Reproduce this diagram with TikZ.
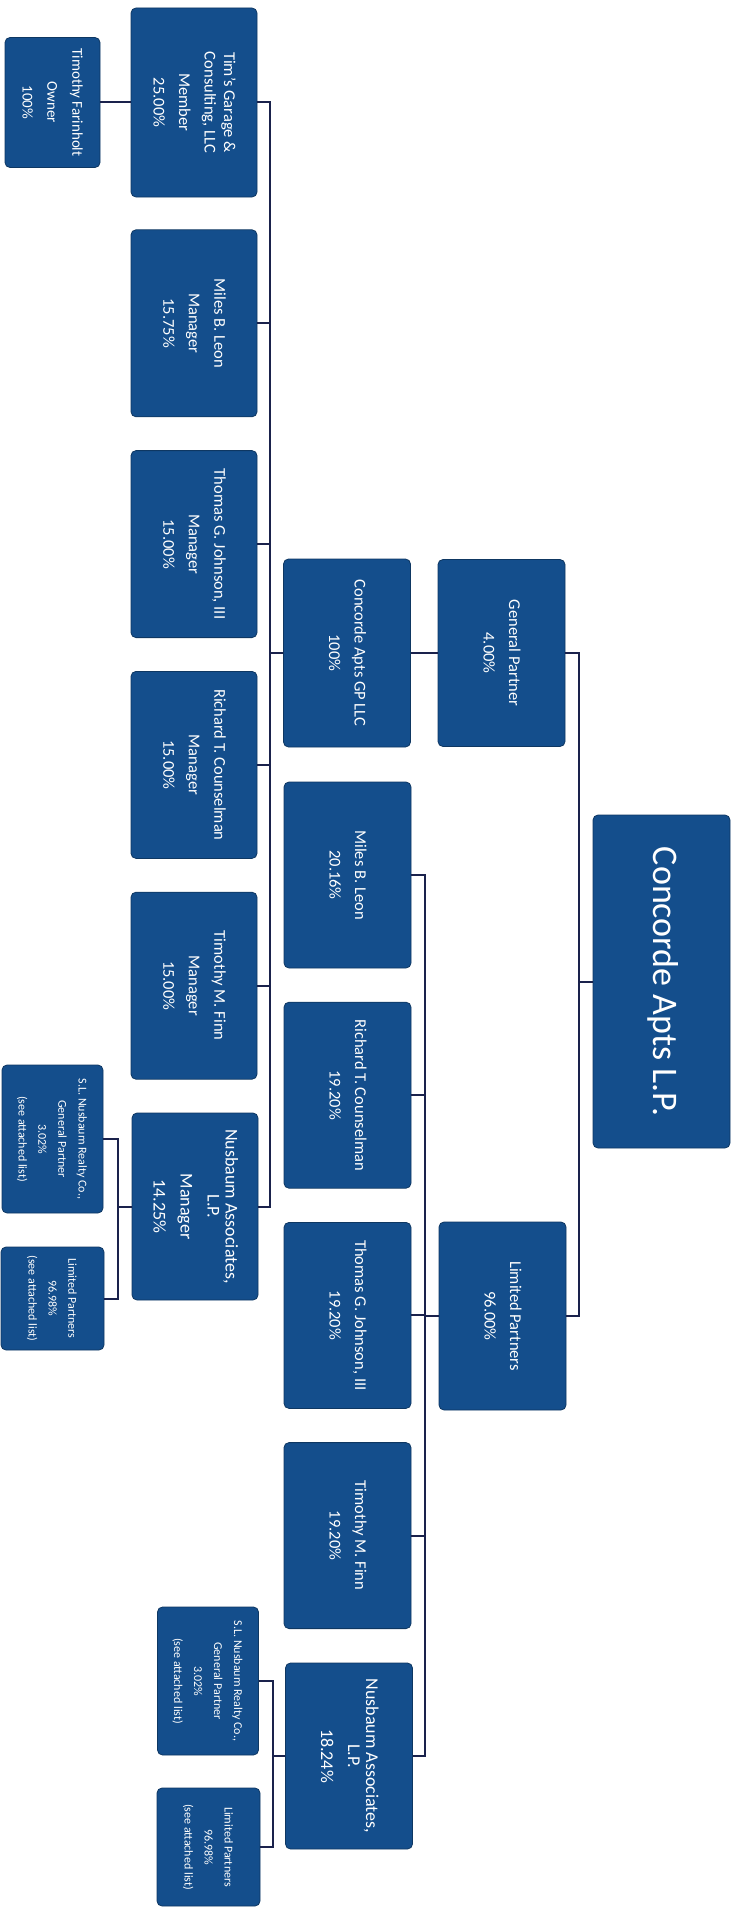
\documentclass[tikz,border=0pt]{standalone}
\usepackage{fontspec}
\setmainfont{Carlito}
\definecolor{boxblue}{RGB}{20,78,140}
\definecolor{linkblue}{RGB}{26,34,76}
\newcommand{\vlines}[1]{\rotatebox{-90}{\begin{tabular}{@{}c@{}}#1\end{tabular}}}

\begin{document}
\begin{tikzpicture}[x=1pt,y=-1pt,
  box/.style={draw=boxblue!70!black, fill=boxblue, rounded corners=5pt, inner sep=0pt,
    line width=0.8pt, text=white, font=\fontsize{16.5}{25.5}\selectfont},
  small/.style={font=\fontsize{12}{20}\selectfont},
  link/.style={draw=linkblue, line width=2pt}]

\useasboundingbox (0,0) rectangle (743,1908);

 % top of the chart
 \node[box, minimum width=137pt, minimum height=333pt, font=\fontsize{36}{40}\selectfont]
   (lp) at (661.5,981.5) {\vlines{Concorde Apts L.P.}};
 \node[box, minimum width=127pt, minimum height=187pt] (gp) at (501.5,653) {\vlines{General Partner\\4.00\%}};
 \node[box, minimum width=127pt, minimum height=188pt] (ltd) at (502.5,1316) {\vlines{Limited Partners\\96.00\%}};
 \node[box, minimum width=127pt, minimum height=188pt] (gpllc) at (347,653) {\vlines{Concorde Apts GP LLC\\100\%}};

 % limited partners
 \foreach \t [count=\i] in {{Miles B. Leon\\20.16\%}, {Richard T. Counselman\\19.20\%},
   {Thomas G. Johnson, III\\19.20\%}, {Timothy M. Finn\\19.20\%}} {
  \node[box, minimum width=127pt, minimum height=186pt] (p\i) at (347.5,{875+220.2*(\i-1)}) {\vlines{\t}};
 }
 \node[box, minimum width=127pt, minimum height=186pt, font=\fontsize{18}{27}\selectfont]
   (p5) at (349,1756) {\vlines{Nusbaum Associates,\\[-9pt] L.P.\\ 18.24\%}};
 \node[box, small, minimum width=101pt, minimum height=148pt] (slrc2) at (208,1681)
   {\vlines{S.L. Nusbaum Realty Co.,\\General Partner\\3.02\%\\(see attached list)}};
 \node[box, small, minimum width=103pt, minimum height=118pt] (ltdp2) at (208.5,1847)
   {\vlines{Limited Partners\\96.98\%\\(see attached list)}};

 % members of the GP LLC
 \node[box, minimum width=126pt, minimum height=189pt] (m1) at (194,102.5)
   {\vlines{Tim's Garage \&\\[-6pt] Consulting, LLC\\ Member\\ 25.00\%}};
 \node[box, minimum width=95pt, minimum height=130pt, font=\fontsize{15}{25}\selectfont]
   (owner) at (52.5,102.5) {\vlines{Timothy Farinholt\\Owner\\100\%}};
 \foreach \t [count=\i from 2] in {{Miles B. Leon\\Manager\\15.75\%}, {Thomas G. Johnson, III\\Manager\\15.00\%},
   {Richard T. Counselman\\Manager\\15.00\%}, {Timothy M. Finn\\Manager\\15.00\%}} {
  \node[box, minimum width=126pt, minimum height=187pt] (m\i) at (194,{102.5+220.8*(\i-1)}) {\vlines{\t}};
 }
 \node[box, minimum width=126pt, minimum height=187pt, font=\fontsize{18}{27}\selectfont]
   (m6) at (195,1206.5) {\vlines{Nusbaum Associates,\\[-9pt] L.P.\\ Manager\\ 14.25\%}};
 \node[box, small, minimum width=101pt, minimum height=148pt] (slrc1) at (52.5,1139)
   {\vlines{S.L. Nusbaum Realty Co.,\\General Partner\\3.02\%\\(see attached list)}};
 \node[box, small, minimum width=103pt, minimum height=103pt] (ltdp1) at (52.5,1298.5)
   {\vlines{Limited Partners\\96.98\%\\(see attached list)}};

 % connectors
 \draw[link] (lp.west) -- ++(-14,0) |- (gp.east);
 \draw[link] (lp.west) -- ++(-14,0) |- (ltd.east);
 \draw[link] (gp.west) -- (gpllc.east);
 \foreach \i in {1,...,6} {
  \draw[link] (gpllc.west) -- ++(-13,0) |- (m\i.east);
 }
 \draw[link] (owner.east) -- (m1.west);
 \draw[link] (m6.west) -- ++(-14,0) |- (slrc1.east);
 \draw[link] (m6.west) -- ++(-14,0) |- (ltdp1.east);
 \foreach \i in {1,...,5} {
  \draw[link] (ltd.west) -- ++(-14,0) |- (p\i.east);
 }
 \draw[link] (p5.west) -- ++(-12,0) |- (slrc2.east);
 \draw[link] (p5.west) -- ++(-12,0) |- (ltdp2.east);

\end{tikzpicture}
\end{document}
